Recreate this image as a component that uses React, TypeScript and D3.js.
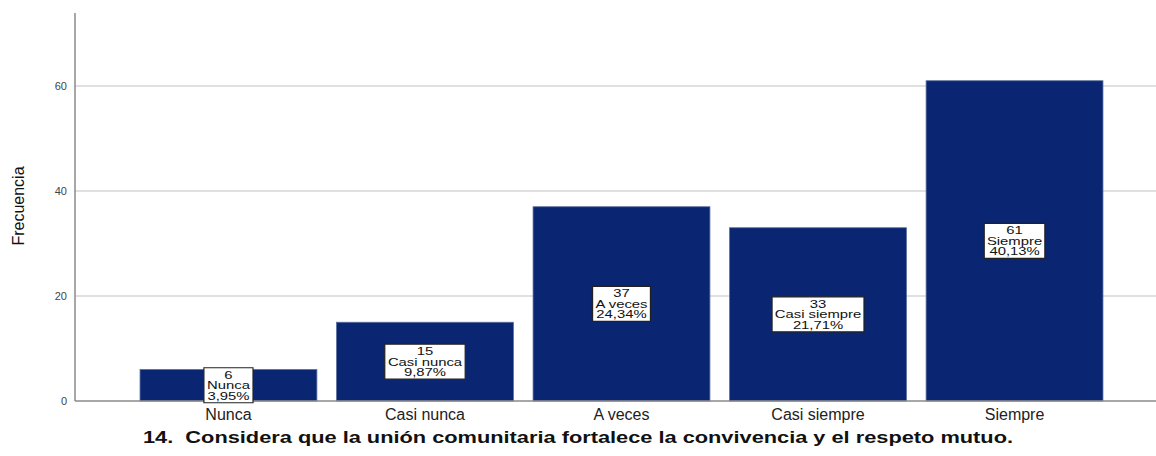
import React, { useEffect, useRef } from 'react';
import * as d3 from 'd3';

// categorías y frecuencias
const categories = ['Nunca', 'Casi nunca', 'A veces', 'Casi siempre', 'Siempre'];
const counts = [6, 15, 37, 33, 61];
const percents = ['3,95%', '9,87%', '24,34%', '21,71%', '40,13%'];
const yTicks = [0, 20, 40, 60];
const title = '14.  Considera que la unión comunitaria fortalece la convivencia y el respeto mutuo.';

const W = 1156;
const H = 456;

const App = () => {
    const svgRef = useRef<SVGSVGElement>(null);

    useEffect(() => {
        const svg = d3.select(svgRef.current);
        svg.selectAll('*').remove();

        const left = 75;
        const right = 1156;
        const top = 13;
        const bottom = 401;

        const y = d3.scaleLinear().domain([0, 73.9]).range([bottom, top]);
        const x = d3.scaleBand<string>()
            .domain(categories)
            .range([130.2, 1112.8])
            .paddingInner(0.1)
            .paddingOuter(0.05);

        // líneas de cuadrícula
        svg.append('g')
            .selectAll('line')
            .data(yTicks.filter(d => d > 0))
            .enter()
            .append('line')
            .attr('x1', left)
            .attr('x2', right)
            .attr('y1', d => y(d))
            .attr('y2', d => y(d))
            .attr('stroke', '#d6d6d6')
            .attr('stroke-width', 1.5);

        // barras
        svg.append('g')
            .selectAll('rect')
            .data(counts)
            .enter()
            .append('rect')
            .attr('x', (d, i) => x(categories[i])!)
            .attr('y', d => y(d))
            .attr('width', x.bandwidth())
            .attr('height', d => bottom - y(d))
            .attr('fill', '#0a2672')
            .attr('stroke', '#5a6e9e')
            .attr('stroke-width', 0.8);

        // ejes
        svg.append('line')
            .attr('x1', left).attr('x2', left)
            .attr('y1', top).attr('y2', bottom)
            .attr('stroke', '#8a8a8a').attr('stroke-width', 1.5);
        svg.append('line')
            .attr('x1', left).attr('x2', right)
            .attr('y1', bottom).attr('y2', bottom)
            .attr('stroke', '#8a8a8a').attr('stroke-width', 1.5);

        svg.append('g')
            .selectAll('text')
            .data(yTicks)
            .enter()
            .append('text')
            .attr('x', 67)
            .attr('y', d => y(d) + 4)
            .attr('text-anchor', 'end')
            .attr('font-family', 'Liberation Sans, Arial, sans-serif')
            .attr('font-size', '11px')
            .attr('fill', '#444')
            .text(d => d);

        // etiquetas del eje X
        svg.append('g')
            .selectAll('text')
            .data(categories)
            .enter()
            .append('text')
            .attr('x', d => x(d)! + x.bandwidth() / 2)
            .attr('y', 420)
            .attr('text-anchor', 'middle')
            .attr('font-family', 'Liberation Sans, Arial, sans-serif')
            .attr('font-size', '16px')
            .attr('fill', '#222')
            .text(d => d);

        // título del eje Y
        svg.append('text')
            .attr('transform', 'translate(24,206) rotate(-90)')
            .attr('text-anchor', 'middle')
            .attr('font-family', 'Liberation Sans Narrow, Liberation Sans, Arial, sans-serif')
            .attr('font-size', '16px')
            .attr('fill', '#111')
            .text('Frecuencia');

        // título
        svg.append('text')
            .attr('x', 578)
            .attr('y', 443)
            .attr('text-anchor', 'middle')
            .attr('font-family', 'Liberation Sans, Arial, sans-serif')
            .attr('font-weight', 'bold')
            .attr('font-size', '16px')
            .attr('fill', '#111')
            .attr('textLength', 870)
            .attr('lengthAdjust', 'spacingAndGlyphs')
            .style('white-space', 'pre')
            .text(title);

        // cajas de etiquetas
        const sx = 1.35;
        const lineH = 10.5;
        categories.forEach((c, i) => {
            const cx = x(c)! + x.bandwidth() / 2;
            const cy = (y(counts[i]) + bottom) / 2;
            const g = svg.append('g').attr('transform', `translate(${cx},${cy}) scale(${sx},1)`);
            const rect = g.append('rect');
            const lines = [String(counts[i]), c, percents[i]];
            const t = g.append('text')
                .attr('text-anchor', 'middle')
                .attr('font-family', 'Liberation Sans, Arial, sans-serif')
                .attr('font-size', '11px')
                .attr('fill', '#111');
            lines.forEach((l, j) => {
                t.append('tspan')
                    .attr('x', 0)
                    .attr('y', (j - 1) * lineH + 4)
                    .text(l);
            });
            const w = (t.node() as SVGTextElement).getBBox().width;
            const bw = w + 4;
            const bh = 35;
            rect.attr('x', -bw / 2)
                .attr('y', -bh / 2)
                .attr('width', bw)
                .attr('height', bh)
                .attr('fill', '#fff')
                .attr('stroke', '#222')
                .attr('stroke-width', 1.2)
                .attr('vector-effect', 'non-scaling-stroke');
        });
    }, []);

    return <svg ref={svgRef} width={W} height={H} style={{ position: 'absolute', left: 0, top: 0, background: '#fff' }}></svg>;
};

export default App;
